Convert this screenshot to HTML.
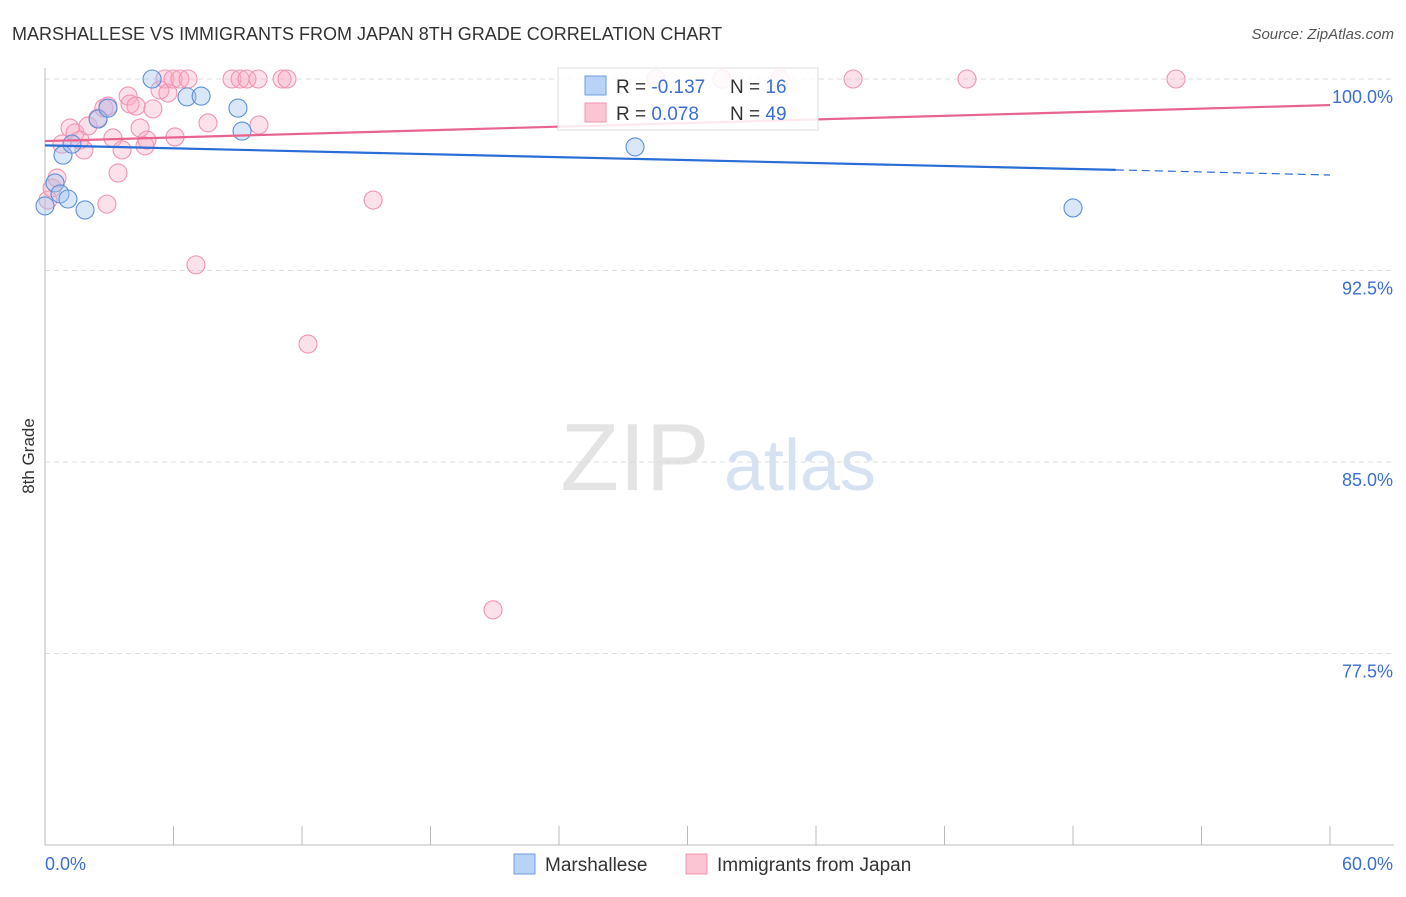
<!DOCTYPE html>
<html><head><meta charset="utf-8"><style>
body{margin:0;background:#fff;font-family:"Liberation Sans",sans-serif}
svg text{font-family:"Liberation Sans",sans-serif}
</style></head><body>
<svg id="c" width="1406" height="892">
<text x="12" y="40" font-size="18" fill="#333">MARSHALLESE VS IMMIGRANTS FROM JAPAN 8TH GRADE CORRELATION CHART</text>
<text x="1394" y="39" font-size="15" fill="#555" font-style="italic" text-anchor="end">Source: ZipAtlas.com</text>
<text x="34" y="456" font-size="17" fill="#333" transform="rotate(-90 34 456)" text-anchor="middle">8th Grade</text>
<g><text x="635" y="490" font-size="96" fill="#e4e4e4" text-anchor="middle" font-family="Liberation Serif">ZIP</text><text x="800" y="490" font-size="72" fill="#d6e2f2" text-anchor="middle">atlas</text></g>
<g id="grid"></g><g id="axes"></g><g id="pts"></g><g id="lines"></g>
<g>
<rect x="558" y="68" width="260" height="62" fill="rgba(255,255,255,0.85)" stroke="#ddd"/>
<rect x="585" y="76" width="21" height="19" fill="#b8d3f5" stroke="#6d9fe0"/>
<rect x="585" y="103" width="21" height="19" fill="#fcc5d4" stroke="#f094b0"/>
<text x="616" y="93" font-size="19" fill="#333">R = <tspan fill="#3b6fd1">-0.137</tspan></text>
<text x="730" y="93" font-size="19" fill="#333">N = <tspan fill="#3b6fd1"> 16</tspan></text>
<text x="616" y="120" font-size="19" fill="#333">R = <tspan fill="#3b6fd1"> 0.078</tspan></text>
<text x="730" y="120" font-size="19" fill="#333">N = <tspan fill="#3b6fd1">49</tspan></text>
</g>
<g>
<rect x="514" y="854" width="21" height="20" fill="#b8d3f5" stroke="#6d9fe0"/>
<text x="545" y="871" font-size="19" fill="#333">Marshallese</text>
<rect x="686" y="854" width="21" height="20" fill="#fcc5d4" stroke="#f094b0"/>
<text x="717" y="871" font-size="19" fill="#333">Immigrants from Japan</text>
</g>
</svg>
<script>
const yTicks=[100,92.5,85,77.5];
const yTickLabels=["100.0%","92.5%","85.0%","77.5%"];
const xEndLabels=["0.0%","60.0%"];
const blueX=[0,0.47,0.7,0.84,1.07,1.26,1.87,2.48,2.94,5.0,6.63,7.29,9.01,9.2,27.55,48.0];
const blueY=[95.03,95.93,95.5,97.02,95.3,97.45,94.87,98.43,98.86,100,99.3,99.33,98.86,97.96,97.34,94.95];
const pinkX=[0.14,0.33,0.56,0.79,1.17,1.40,1.63,1.82,2.01,2.47,2.75,2.94,3.17,3.41,3.60,3.88,3.97,4.25,4.44,4.67,4.76,5.04,5.37,5.60,5.74,5.98,6.30,6.68,6.07,7.05,7.61,8.73,9.11,9.43,9.95,9.99,11.07,11.30,12.28,15.32,20.92,28.53,31.61,37.73,43.05,52.81,2.89,34.32];
const pinkY=[95.26,95.73,96.12,97.45,98.08,97.89,97.61,97.22,98.16,98.47,98.86,98.94,97.69,96.32,97.22,99.33,99.02,98.94,98.08,97.38,97.61,98.83,99.57,100,99.45,100,100,100,97.73,92.72,98.28,100,100,100,100,98.2,100,100,89.62,95.26,79.21,100,100,100,100,100,95.1,100];
const blueLine=[[0,97.4],[50,96.44],[60,96.24]];
const pinkLine=[[0,97.57],[60,98.98]];
const NS="http://www.w3.org/2000/svg";
const X=v=>45+v/60*1285, Y=v=>79+(100-v)/7.5*191.5;
function mk(t,a,p){const e=document.createElementNS(NS,t);for(const k in a)e.setAttribute(k,a[k]);p.appendChild(e);return e;}
const grid=document.getElementById('grid'),axes=document.getElementById('axes'),pts=document.getElementById('pts'),lines=document.getElementById('lines');
yTicks.forEach((t,i)=>{
 const l=mk('line',{x1:45,x2:1394,y1:Y(t),y2:Y(t),stroke:'#ddd','stroke-dasharray':'5,4'},grid);
 
 
 const tx=mk('text',{x:1393,y:Y(t)+24,'font-size':18,fill:'#3b6fd1','text-anchor':'end'},axes);
 tx.textContent=yTickLabels[i];
 
 
});
const ax=mk('line',{x1:45,x2:45,y1:68,y2:845,stroke:'#bbb'},axes);


const xa=mk('line',{x1:45,x2:1394,y1:845,y2:845,stroke:'#bbb'},axes);


for(let i=0;i<=10;i++){const v=i*6;const t=mk('line',{x1:X(v),x2:X(v),y1:826,y2:845,stroke:'#bbb'},axes);
 
 }
[[0,'start',45],[60,'end',1393]].forEach((d,i)=>{const t=mk('text',{x:d[2],y:870,'font-size':18,fill:'#3b6fd1','text-anchor':d[1]},axes);t.textContent=xEndLabels[i];
 
 });
pinkX.forEach((x,i)=>{const c=mk('circle',{cx:X(x),cy:Y(pinkY[i]),r:9,fill:'rgba(248,170,195,0.35)',stroke:'#f094b0','stroke-width':1.1},pts);
 
 });
blueX.forEach((x,i)=>{const c=mk('circle',{cx:X(x),cy:Y(blueY[i]),r:9,fill:'rgba(160,195,240,0.4)',stroke:'#5b8fdc','stroke-width':1.1},pts);
 
 });
const b1=mk('line',{x1:X(blueLine[0][0]),y1:Y(blueLine[0][1]),x2:X(blueLine[1][0]),y2:Y(blueLine[1][1]),stroke:'#2a6dd6','stroke-width':2.2},lines);


const b2=mk('line',{x1:X(blueLine[1][0]),y1:Y(blueLine[1][1]),x2:X(blueLine[2][0]),y2:Y(blueLine[2][1]),stroke:'#2a6dd6','stroke-width':1.2,'stroke-dasharray':'8,5'},lines);


const p1=mk('line',{x1:X(pinkLine[0][0]),y1:Y(pinkLine[0][1]),x2:X(pinkLine[1][0]),y2:Y(pinkLine[1][1]),stroke:'#e8638e','stroke-width':2.2},lines);


</script>
</body></html>
